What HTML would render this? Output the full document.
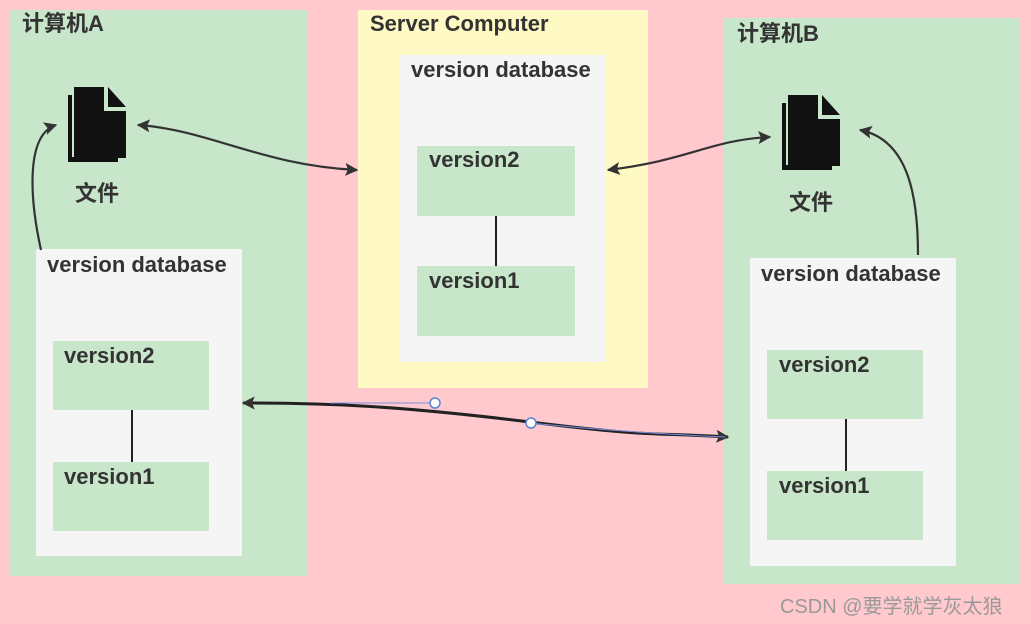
<!DOCTYPE html>
<html><head><meta charset="utf-8"><style>
html,body{margin:0;padding:0;background:#ffc9ce;}
svg{display:block}
text{font-family:"Liberation Sans","Noto Sans CJK SC",sans-serif;font-weight:bold;fill:#333;font-size:22px}
</style></head><body>
<svg width="1031" height="624" viewBox="0 0 1031 624" xmlns="http://www.w3.org/2000/svg">
<defs>
<marker id="ah2" viewBox="0 0 10 10" refX="9" refY="5" markerWidth="18" markerHeight="13" orient="auto-start-reverse" markerUnits="userSpaceOnUse">
<path d="M0,0 L10,5 L0,10 L2,5 Z" fill="#333"/></marker>
</defs>
<rect width="1031" height="624" fill="#ffc9ce"/>
<rect x="10" y="10" width="298" height="566" fill="#c8e6c9"/>
<text x="22" y="31">计算机A</text>
<rect x="36" y="249" width="206" height="307" fill="#f5f5f5"/>
<text x="47" y="272">version database</text>
<rect x="53" y="341" width="156" height="69" fill="#c8e6c9"/>
<text x="64" y="363">version2</text>
<rect x="53" y="462" width="156" height="69" fill="#c8e6c9"/>
<text x="64" y="484">version1</text>
<line x1="132" y1="410" x2="132" y2="462" stroke="#222" stroke-width="2"/>
<rect x="358" y="10" width="290" height="378" fill="#fff9c4"/>
<text x="370" y="31">Server Computer</text>
<rect x="400" y="55" width="206" height="307" fill="#f5f5f5"/>
<text x="411" y="77">version database</text>
<rect x="417" y="146" width="158" height="70" fill="#c8e6c9"/>
<text x="429" y="167">version2</text>
<rect x="417" y="266" width="158" height="70" fill="#c8e6c9"/>
<text x="429" y="288">version1</text>
<line x1="496" y1="216" x2="496" y2="266" stroke="#222" stroke-width="2"/>
<rect x="724" y="18" width="296" height="566" fill="#c8e6c9"/>
<text x="737" y="41">计算机B</text>
<rect x="750" y="258" width="206" height="308" fill="#f5f5f5"/>
<text x="761" y="281">version database</text>
<rect x="767" y="350" width="156" height="69" fill="#c8e6c9"/>
<text x="779" y="372">version2</text>
<rect x="767" y="471" width="156" height="69" fill="#c8e6c9"/>
<text x="779" y="493">version1</text>
<line x1="846" y1="419" x2="846" y2="471" stroke="#222" stroke-width="2"/>
<g fill="#111">
<path d="M68,95 h4 v62 h46 v5 h-50 Z"/>
<path d="M74,87 h30 v24 h22 v47 h-52 Z"/>
<path d="M108,87 l18,20 h-18 Z"/>
</g>
<text x="75" y="201">文件</text>
<g fill="#111">
<path d="M782,103 h4 v62 h46 v5 h-50 Z"/>
<path d="M788,95 h30 v24 h22 v47 h-52 Z"/>
<path d="M822,95 l18,20 h-18 Z"/>
</g>
<text x="789" y="210">文件</text>
<g fill="none" stroke="#333" stroke-width="2.2">
<path d="M138,125 C210,130 260,165 357,170" marker-start="url(#ah2)" marker-end="url(#ah2)"/>
<path d="M608,170 C690,160 710,140 770,137" marker-start="url(#ah2)" marker-end="url(#ah2)"/>
<path d="M41,250 C30,200 25,135 56,125" marker-end="url(#ah2)"/>
<path d="M918,255 C918,200 910,140 860,130" marker-end="url(#ah2)"/>
<path d="M243,403 C330,403 400,406 530,422 S650,432 728,437" stroke="#222" stroke-width="3" marker-start="url(#ah2)" marker-end="url(#ah2)"/>
</g>
<line x1="330" y1="403" x2="435" y2="403" stroke="#7b8fe0" stroke-width="1"/>
<path d="M530,423 C600,430 660,434 725,437" fill="none" stroke="#7b8fe0" stroke-width="1"/>
<circle cx="435" cy="403" r="5" fill="#fff" stroke="#5b82d6" stroke-width="1.5"/>
<circle cx="531" cy="423" r="5" fill="#fff" stroke="#5b82d6" stroke-width="1.5"/>
<text x="780" y="613" style="font-weight:normal;fill:#999;font-size:20px">CSDN @要学就学灰太狼</text>
</svg>
</body></html>
